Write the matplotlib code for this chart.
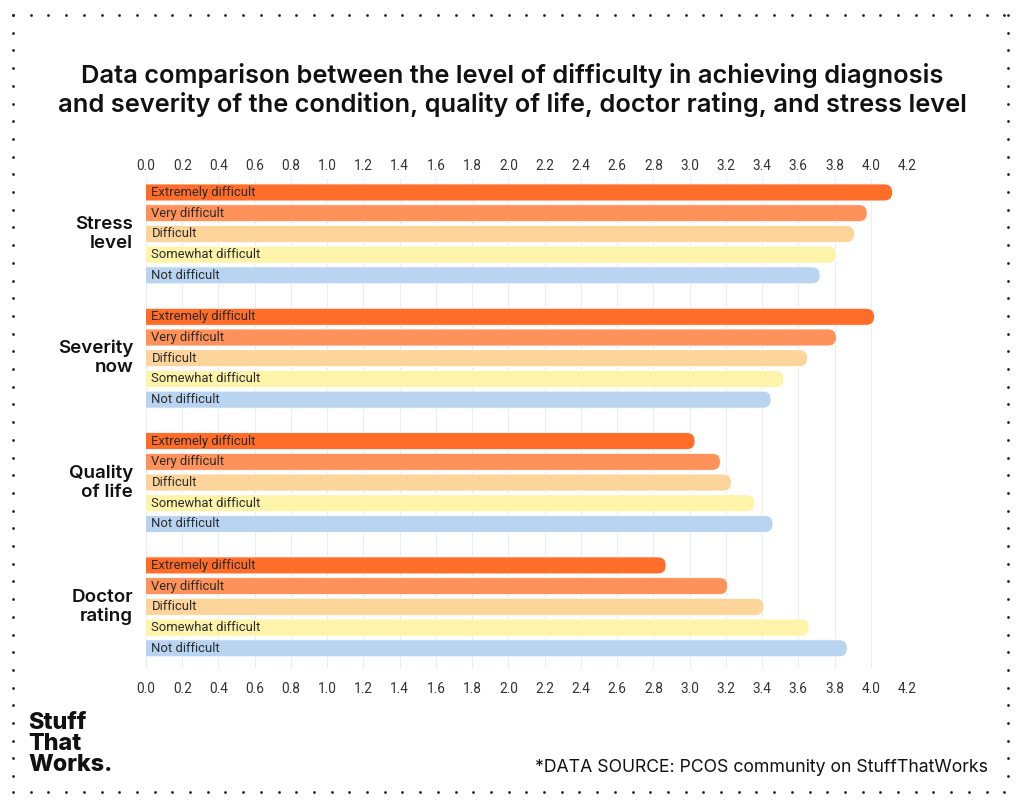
import numpy as np
import matplotlib
matplotlib.use("Agg")
import matplotlib.pyplot as plt
from matplotlib.patches import FancyBboxPatch, Rectangle
from matplotlib.lines import Line2D
import matplotlib.transforms as mtransforms

# ---------------- data ----------------
groups = ["Stress\nlevel", "Severity\nnow", "Quality\nof life", "Doctor\nrating"]
levels = ["Extremely difficult", "Very difficult", "Difficult", "Somewhat difficult", "Not difficult"]
stress_level = [4.12, 3.98, 3.91, 3.81, 3.72]
severity_now = [4.02, 3.81, 3.65, 3.52, 3.45]
quality_of_life = [3.03, 3.17, 3.23, 3.36, 3.46]
doctor_rating = [2.87, 3.21, 3.41, 3.66, 3.87]
series = [stress_level, severity_now, quality_of_life, doctor_rating]
xticks = [round(0.2 * i, 1) for i in range(22)]

colors = ["#FF6D28", "#FF925A", "#FDD59B", "#FDF4AA", "#B8D4F1"]

title = ("Data comparison between the level of difficulty in achieving diagnosis\n"
         "and severity of the condition, quality of life, doctor rating, and stress level")
source = "*DATA SOURCE: PCOS community on StuffThatWorks"

# ---------------- figure ----------------
W, H = 1024, 806
fig = plt.figure(figsize=(W / 100, H / 100), dpi=100)
fig.patch.set_facecolor("white")

ax_left, ax_right, ax_top, ax_bot = 146, 907, 179, 669
ax = fig.add_axes([ax_left / W, (H - ax_bot) / H, (ax_right - ax_left) / W, (ax_bot - ax_top) / H])

positions = []
vals = []
cols = []
labs = []
for g, s in enumerate(series):
    for j, v in enumerate(s):
        positions.append(g * 6 + j)
        vals.append(v)
        cols.append(colors[j])
        labs.append(levels[j])

bar_h = 0.82
bars = ax.barh(positions, vals, height=bar_h, color=cols, zorder=2)

ax.set_xlim(0, 4.2)
ax.set_ylim(23.0, -0.65)

# rounded right ends
px_per_x = (ax_right - ax_left) / 4.2
px_per_y = (ax_bot - ax_top) / (23.0 + 0.65)
r_px = 8.0
rx = r_px / px_per_x
aspect = (r_px / px_per_y) / rx
clip_rect = Rectangle((0, -100), 100, 200, transform=ax.transData)
for b, c in zip(bars, cols):
    b.set_visible(False)
    x0, y0 = b.get_x(), b.get_y()
    w, h = b.get_width(), b.get_height()
    p = FancyBboxPatch((x0 - 0.2, y0), w + 0.2, h,
                       boxstyle=f"round,pad=0,rounding_size={rx}",
                       mutation_aspect=aspect, facecolor=c, edgecolor="white",
                       linewidth=0.6, zorder=2)
    ax.add_patch(p)
    p.set_clip_path(clip_rect)

for pos, lab in zip(positions, labs):
    ax.text(0.03, pos, lab, va="center", ha="left", fontsize=9.4,
            family="Roboto", color="#2b2b2b", zorder=3)

# grid & ticks
tick_labels = [f"{t:.1f}" for t in xticks]
ax.set_xticks(xticks)
ax.set_xticklabels(tick_labels)
ax.grid(axis="x", color="#E9EDF1", linewidth=0.8, zorder=0)
ax.set_yticks([])
for sp in ax.spines.values():
    sp.set_visible(False)
ax.tick_params(axis="x", bottom=True, labelbottom=True, top=False, labeltop=False,
               length=0, labelsize=9.8, labelcolor="#333333", pad=9.5)
for lbl in ax.get_xticklabels():
    lbl.set_family("Roboto")

sec = ax.secondary_xaxis("top")
sec.set_xticks(xticks)
sec.set_xticklabels(tick_labels)
sec.tick_params(axis="x", length=0, labelsize=9.8, labelcolor="#333333", pad=4)
for lbl in sec.get_xticklabels():
    lbl.set_family("Roboto")
for sp in sec.spines.values():
    sp.set_visible(False)

# group labels
trans = mtransforms.blended_transform_factory(ax.transAxes, ax.transData)
for g, name in enumerate(groups):
    ax.text(-13 / (ax_right - ax_left), g * 6 + 2, name, transform=trans,
            ha="right", va="center", fontsize=13.5, family="Inter",
            fontweight="semibold", color="#111111", linespacing=1.15)

# title
fig.text(0.5, 1 - 90 / H, title, ha="center", va="center", fontsize=18.3,
         family="Inter", fontweight="semibold", color="#111111", linespacing=1.2)

# logo
fig.text(28 / W, 1 - 744 / H, "Stuff\nThat\nWorks.", ha="left", va="center",
         fontsize=16.8, family="Inter", fontweight="heavy", color="#111111",
         linespacing=0.93)

# source
fig.text(988 / W, 1 - 768 / H, source, ha="right", va="center", fontsize=12.7,
         family="Inter", fontweight="normal", color="#111111")

# dotted border
step = 17.7
xs = np.arange(13, 1010, step)
ys = np.arange(15, 793, step)
def add_dots(x, y):
    fig.add_artist(Line2D(np.asarray(x) / W, 1 - np.asarray(y) / H, linestyle="none",
                          marker="o", markersize=2.0, color="#222222",
                          markeredgewidth=0, transform=fig.transFigure))
add_dots(xs, np.full_like(xs, 15))
add_dots(xs, np.full_like(xs, 792))
add_dots(np.full_like(ys, 13), ys)
add_dots(np.full_like(ys, 1008), ys)

fig.savefig("out.png", dpi=100, facecolor="white")
